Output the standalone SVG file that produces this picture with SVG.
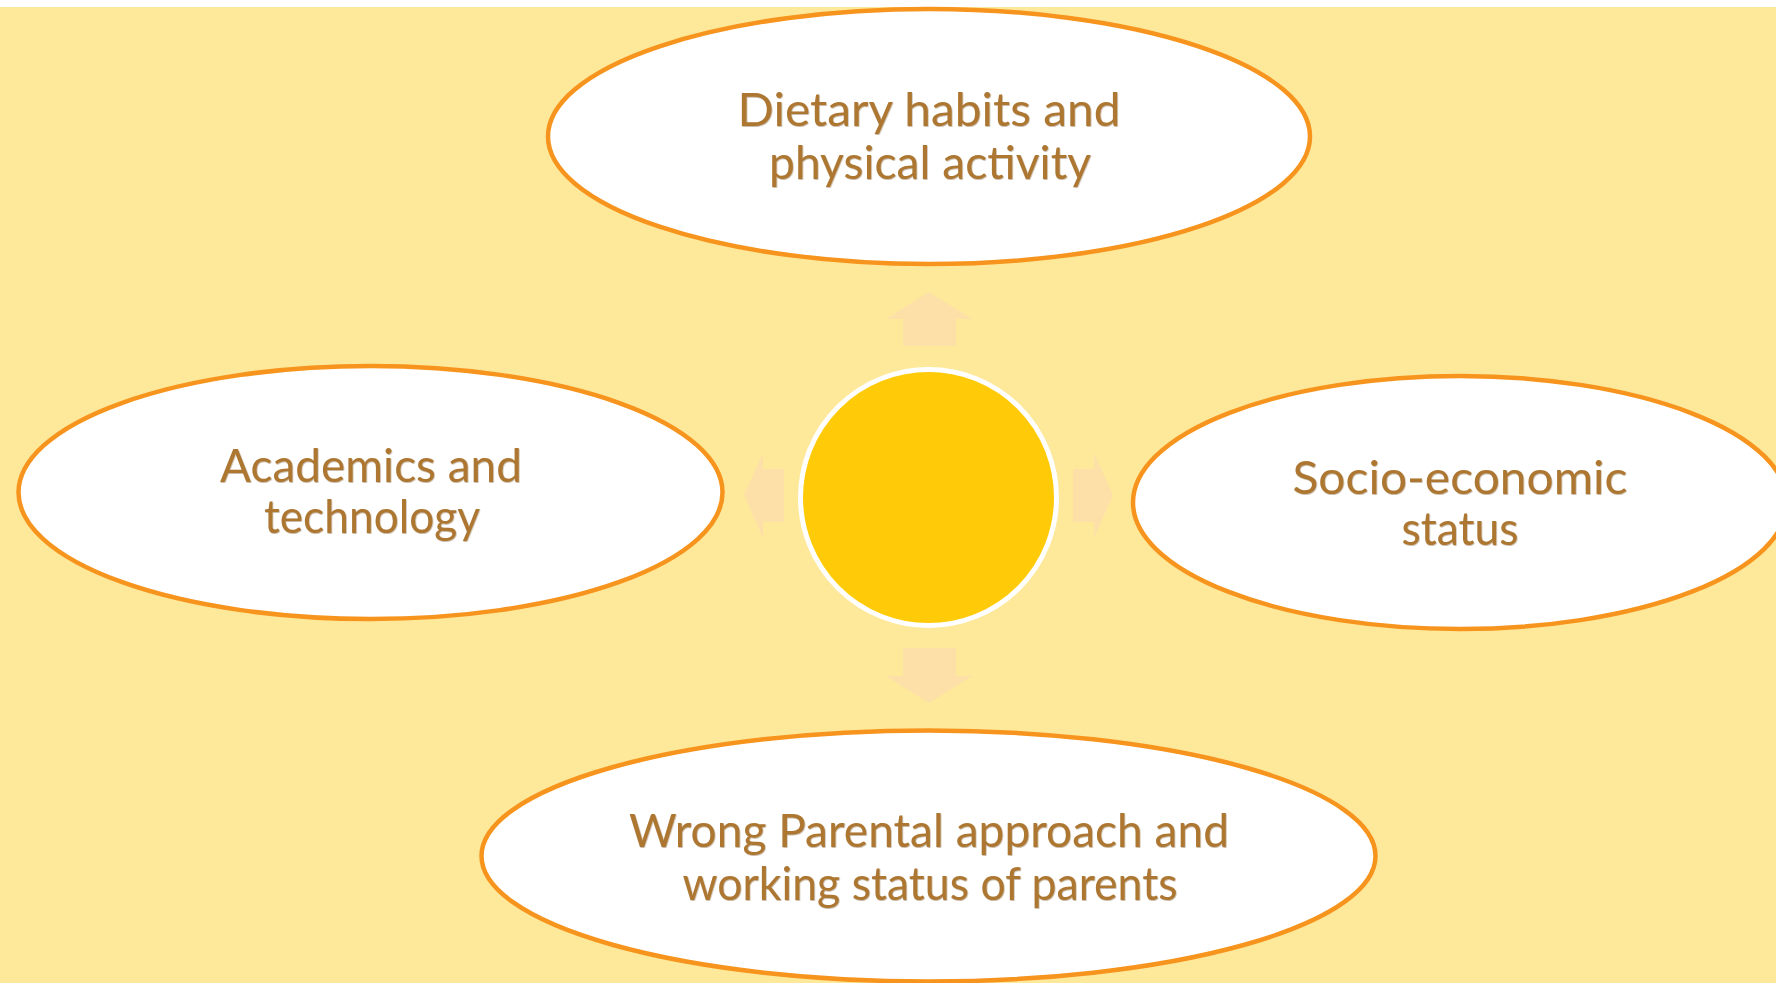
<svg xmlns="http://www.w3.org/2000/svg" width="1776" height="983" viewBox="0 0 1776 983">
  <defs>
    <filter id="emb" x="-5%" y="-20%" width="110%" height="140%">
      <feDropShadow dx="0.6" dy="0.8" stdDeviation="0.5" flood-color="#6b4414" flood-opacity="0.45"/>
    </filter>
  </defs>
  <style>
    .bubble { fill: #FFFFFF; stroke: #F7941D; stroke-width: 4.5; }
    .lbl { font-family: Lato, "Open Sans", "DejaVu Sans", sans-serif; font-size: 47px; fill: #AD7731; text-anchor: middle; filter: url(#emb); }
    .arrow { fill: #FDE0A8; }
  </style>
  <rect x="0" y="0" width="1776" height="983" fill="#FFFFFF"/>
  <rect x="0" y="7" width="1776" height="976" fill="#FEE89A"/>

  <g id="connectors">
    <polygon class="arrow" points="929,292 972,319 956,319 956,346 903,346 903,319 886,319"/>
    <polygon class="arrow" points="929,703 972,676 956,676 956,648 903,648 903,676 886,676"/>
    <polygon class="arrow" points="744,495 763,453 763,469 784,469 784,522 763,522 763,538"/>
    <polygon class="arrow" points="1113,495 1094,453 1094,469 1073,469 1073,522 1094,522 1094,538"/>
  </g>

  <g id="center">
    <circle cx="928.5" cy="497.5" r="128" fill="#FFCA08" stroke="#FFFFFF" stroke-width="5"/>
  </g>

  <g id="node-top">
    <ellipse class="bubble" cx="929" cy="136.5" rx="381" ry="127.5"/>
    <text class="lbl" x="929" y="126" textLength="383" lengthAdjust="spacingAndGlyphs">Dietary habits and</text>
    <text class="lbl" x="930" y="179" textLength="322" lengthAdjust="spacingAndGlyphs">physical activity</text>
  </g>

  <g id="node-left">
    <ellipse class="bubble" cx="370.5" cy="492.5" rx="352" ry="126.5"/>
    <text class="lbl" x="371" y="482" textLength="302" lengthAdjust="spacingAndGlyphs">Academics and</text>
    <text class="lbl" x="372" y="533" textLength="216" lengthAdjust="spacingAndGlyphs">technology</text>
  </g>

  <g id="node-right">
    <ellipse class="bubble" cx="1460" cy="502.5" rx="327" ry="126.5"/>
    <text class="lbl" x="1460" y="494" textLength="335" lengthAdjust="spacingAndGlyphs">Socio-economic</text>
    <text class="lbl" x="1460" y="545" textLength="117" lengthAdjust="spacingAndGlyphs">status</text>
  </g>

  <g id="node-bottom">
    <ellipse class="bubble" cx="928.5" cy="856" rx="447" ry="125.5"/>
    <text class="lbl" x="929" y="847" textLength="600" lengthAdjust="spacingAndGlyphs">Wrong Parental approach and</text>
    <text class="lbl" x="930" y="900" textLength="495" lengthAdjust="spacingAndGlyphs">working status of parents</text>
  </g>
</svg>
